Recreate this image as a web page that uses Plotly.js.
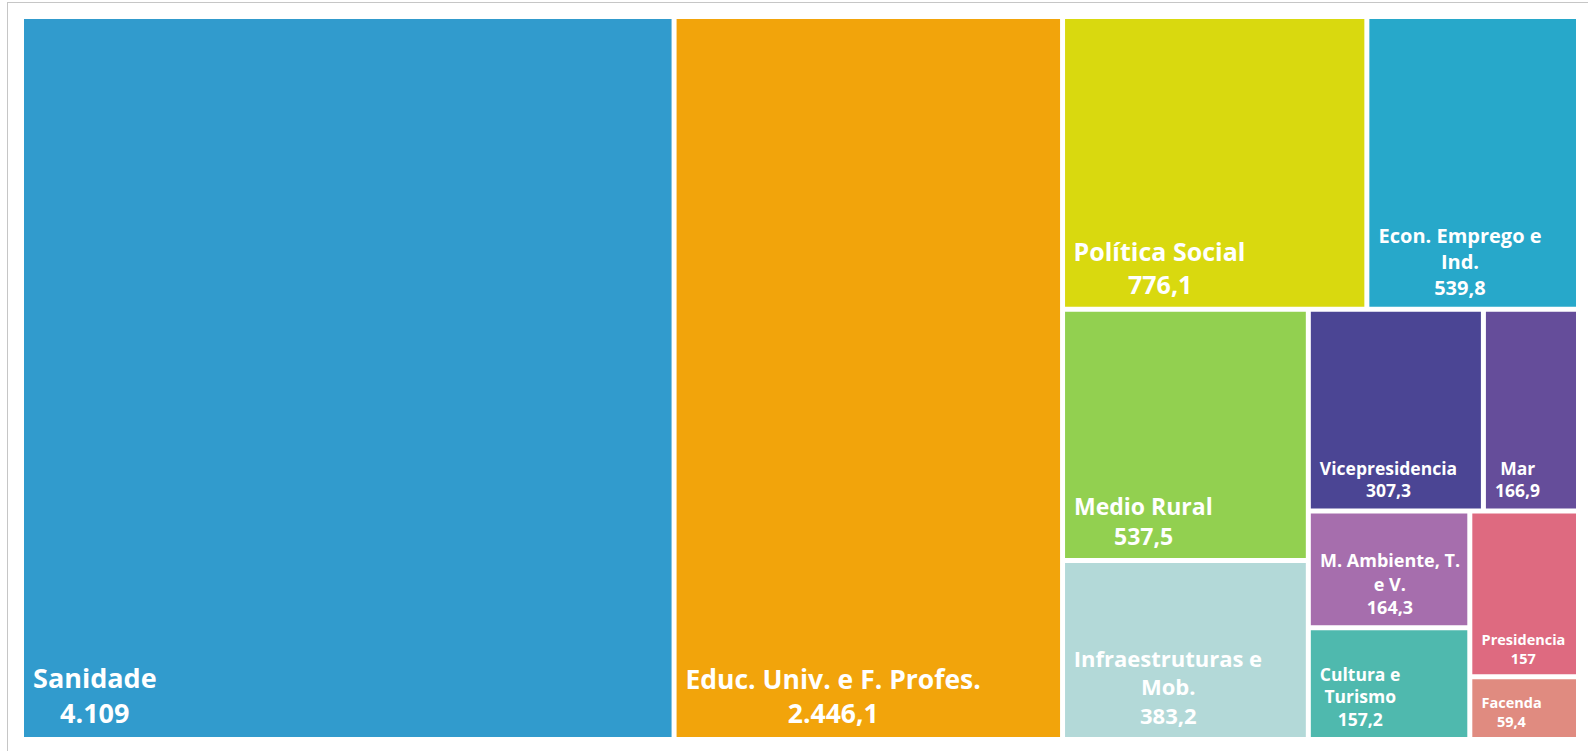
<!DOCTYPE html>
<html>
<head>
<meta charset="utf-8">
<script src="https://cdn.plot.ly/plotly-3.0.1.min.js"></script>
<style>
  html, body { margin: 0; padding: 0; background: #ffffff; overflow: hidden; }
  #frame { position: absolute; left: 7px; top: 2px; width: 1590px; height: 760px;
           border-left: 1px solid #c6c6c6; border-top: 1px solid #c6c6c6; }
  #chart { position: absolute; left: 0; top: 0; width: 1588px; height: 751px; }
</style>
</head>
<body>
<div id="frame"></div>
<div id="chart"></div>
<script>
// ---- data ----
const labels = [
  "Sanidade",
  "Educ. Univ. e F. Profes.",
  "Política Social",
  "Econ. Emprego e<br>Ind.",
  "Medio Rural",
  "Infraestruturas e<br>Mob.",
  "Vicepresidencia",
  "Mar",
  "M. Ambiente, T.<br>e V.",
  "Cultura e<br>Turismo",
  "Presidencia",
  "Facenda"
];
const values = [4109, 2446.1, 776.1, 539.8, 537.5, 383.2, 307.3, 166.9, 164.3, 157.2, 157, 59.4];
const colors = ["#319BCD", "#F2A40B", "#D9D90F", "#27A8CA", "#92D050", "#B3D9D8",
                "#4B4594", "#654D9A", "#A66EAD", "#4FB9AE", "#DE6A80", "#E08B80"];
const fontSizes = [27, 26.5, 25, 20, 23, 22, 17.5, 17.5, 18, 17.5, 14.5, 14.5];

// ---- label formatting (lines centred on each other, inset from the tile edge) ----
const FONT = "Open Sans";
const ctx = document.createElement("canvas").getContext("2d");
function textWidth(str, size) {
  ctx.font = "bold " + size + "px '" + FONT + "'";
  return ctx.measureText(str).width;
}
const NB = "\u00A0", HS = "\u200A";
function spaces(px, size) {
  if (px <= 0.5) return "";
  const wn = textWidth(NB, size), wh = Math.max(0.3, textWidth(HS, size));
  let best = "", bestErr = px;
  for (let n = 0; n * wn <= px + wn; n++) {
    const m = Math.max(0, Math.round((px - n * wn) / wh));
    const s = NB.repeat(n) + HS.repeat(m);
    const err = Math.abs(textWidth(s, size) - px);
    if (err < bestErr) { best = s; bestErr = err; }
  }
  return best;
}
function fmt(v) {
  const parts = (Math.round(v * 10) / 10).toFixed(1).split(".");
  const ip = parts[0].replace(/\B(?=(\d{3})+(?!\d))/g, ".");
  return parts[1] === "0" ? ip : ip + "," + parts[1];
}
const INSET = 7;
const texts = labels.map((lab, i) => {
  const size = fontSizes[i];
  const lines = lab.split("<br>").concat([fmt(values[i])]);
  const widths = lines.map(l => textWidth(l, size));
  const maxW = Math.max.apply(null, widths);
  const body = lines.map((l, k) => "<b>" + spaces(INSET + (maxW - widths[k]) / 2, size) + l + "</b>");
  body[body.length - 1] += '<span style="font-size:' + (size + 14) + 'px">' + NB + "</span>";
  return body.join("<br>");
});

const trace = {
  type: "treemap",
  labels: labels,
  parents: labels.map(() => ""),
  values: values,
  text: texts,
  texttemplate: "%{text}",
  textposition: "bottom left",
  sort: true,
  tiling: { packing: "squarify", squarifyratio: 1.12 },
  pathbar: { visible: false },
  marker: { colors: colors, line: { width: 2, color: "#ffffff" }, pad: { t: 0, l: 0, r: 0, b: 0 } },
  textfont: { family: FONT + ", Noto Sans, sans-serif", size: fontSizes, color: "#ffffff" },
  hovertemplate: "%{label}: %{value}<extra></extra>"
};

const layout = {
  width: 1588, height: 751,
  margin: { l: 23, r: 11, t: 18, b: 13, pad: 0 },
  paper_bgcolor: "rgba(0,0,0,0)",
  separators: ",.",
  showlegend: false
};

Plotly.newPlot("chart", [trace], layout, { displayModeBar: false });
</script>
</body>
</html>
